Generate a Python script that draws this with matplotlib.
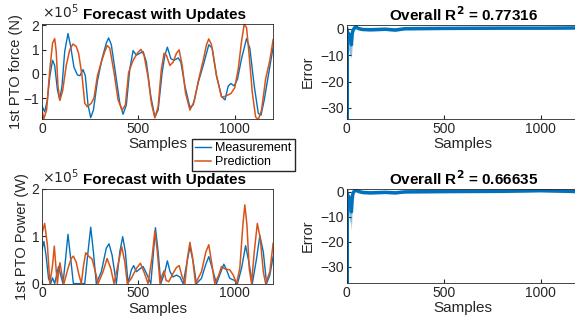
import numpy as np
import matplotlib.pyplot as plt

plt.rcParams['font.family'] = ['Liberation Sans', 'DejaVu Sans']

BLUE = '#0072BD'
ORANGE = '#D95319'
DARK = '#262626'

# 1st PTO force, units of 1e5 N
force_meas_x = [0, 14, 28, 41, 55, 66, 80, 92, 104, 118, 135, 149, 166, 184, 197, 213, 225, 239, 253, 267, 288, 312, 334, 346, 360, 381, 404, 421, 438, 456, 473, 490, 508, 525, 542, 565, 586, 603, 624, 638, 651, 669, 686, 707, 721, 742, 768, 785, 811, 837, 866, 884, 906, 932, 950, 967, 981, 998, 1015, 1036, 1062, 1079, 1102, 1123, 1137, 1154, 1175, 1200]
force_meas_y = [-1.31, -1.55, -1.06, -0.07, 0.56, 0.35, -0.63, -1.06, -0.49, 0.92, 1.66, 1.13, 0.28, -0.04, -0.07, 0.18, -0.07, -1.27, -1.79, -1.48, -0.28, 0.63, 1.27, 1.48, 1.2, 0.07, -1.2, -1.65, -1.27, 0.21, 0.96, 0.77, 0.85, 0.92, 0.49, -0.92, -1.76, -1.48, 0.07, 0.77, 1.1, 0.63, 0.56, 0.66, 0.49, -0.49, -1.37, -1.27, -0.35, 0.35, 1.2, 1.06, -0.07, -0.92, -1.06, -0.49, -0.39, -0.49, -0.21, 0.63, 1.45, 1.06, -0.49, -1.62, -1.69, -1.06, -0.07, 1.1]
force_pred_x = [0, 10, 24, 41, 55, 66, 74, 83, 93, 107, 126, 144, 161, 178, 190, 208, 222, 235, 256, 270, 288, 308, 326, 339, 352, 374, 395, 416, 433, 450, 473, 495, 513, 530, 551, 568, 586, 603, 620, 634, 646, 664, 681, 698, 712, 728, 745, 768, 790, 814, 837, 854, 866, 880, 906, 932, 950, 981, 1001, 1019, 1036, 1050, 1062, 1074, 1092, 1109, 1123, 1140, 1161, 1183, 1200]
force_pred_y = [-1.48, -1.83, -1.48, 0.21, 1.27, 1.45, 0.92, -0.49, -1.08, -0.7, 0.35, 0.99, 1.23, 1.13, 0.85, -0.07, -1.2, -1.34, -1.2, -0.99, -0.07, 0.49, 0.92, 1.17, 1.06, 0.07, -1.06, -1.48, -1.27, 0.07, 0.56, 0.85, 1.01, 0.77, -0.14, -1.2, -1.8, -1.34, 0.21, 0.85, 0.77, 0.35, 0.49, 0.85, 0.99, 0.35, -0.77, -1.48, -1.13, -0.21, 0.56, 1.2, 1.44, 1.2, -0.07, -0.94, -0.92, -0.8, -0.56, 0.21, 1.34, 2.04, 1.9, 0.92, -0.77, -1.76, -1.87, -1.48, -0.21, 0.56, 1.41]

# 1st PTO power, units of 1e5 W
power_meas_x = [0, 10, 21, 34, 45, 55, 66, 76, 86, 97, 109, 121, 135, 149, 163, 222, 239, 253, 267, 282, 308, 334, 348, 364, 386, 404, 419, 433, 447, 464, 476, 490, 508, 525, 542, 565, 577, 589, 603, 617, 638, 651, 665, 681, 698, 716, 733, 750, 768, 785, 802, 828, 849, 866, 884, 906, 929, 944, 958, 975, 998, 1015, 1036, 1057, 1074, 1092, 1114, 1131, 1149, 1166, 1183, 1200]
power_meas_y = [0.71, 0.89, 0.6, 0.11, 0.0, 0.12, 0.0, 0.18, 0.36, 0.18, 0.0, 0.46, 1.04, 0.53, 0.0, 0.0, 0.67, 1.19, 0.67, 0.0, 0.25, 0.75, 0.84, 0.6, 0.0, 0.67, 0.99, 0.67, 0.0, 0.29, 0.38, 0.25, 0.31, 0.36, 0.22, 0.0, 0.57, 1.18, 0.67, 0.0, 0.25, 0.48, 0.25, 0.14, 0.18, 0.14, 0.0, 0.39, 0.78, 0.46, 0.0, 0.11, 0.39, 0.57, 0.32, 0.0, 0.25, 0.41, 0.29, 0.11, 0.07, 0.0, 0.32, 0.8, 0.46, 0.0, 0.53, 1.01, 0.67, 0.0, 0.18, 0.57]
power_pred_x = [0, 14, 28, 41, 55, 64, 73, 80, 86, 93, 104, 114, 135, 152, 163, 178, 190, 204, 216, 227, 242, 260, 277, 291, 317, 338, 357, 374, 398, 414, 430, 443, 464, 490, 511, 530, 551, 572, 586, 599, 613, 624, 634, 644, 658, 681, 698, 712, 728, 742, 755, 768, 781, 797, 828, 851, 866, 880, 897, 918, 932, 950, 975, 993, 1010, 1027, 1043, 1053, 1064, 1076, 1088, 1102, 1118, 1133, 1149, 1161, 1183, 1200]
power_pred_y = [1.06, 1.27, 0.82, 0.0, 0.39, 0.79, 0.32, 0.0, 0.25, 0.44, 0.18, 0.0, 0.32, 0.53, 0.58, 0.45, 0.22, 0.0, 0.39, 0.65, 0.58, 0.52, 0.25, 0.0, 0.25, 0.53, 0.32, 0.0, 0.46, 0.78, 0.46, 0.0, 0.11, 0.32, 0.43, 0.24, 0.0, 0.57, 1.11, 0.67, 0.0, 0.18, 0.27, 0.07, 0.04, 0.22, 0.34, 0.38, 0.14, 0.0, 0.53, 0.87, 0.57, 0.0, 0.25, 0.67, 0.82, 0.46, 0.0, 0.18, 0.36, 0.31, 0.29, 0.18, 0.0, 0.32, 1.24, 1.66, 1.24, 0.32, 0.0, 0.67, 1.27, 0.96, 0.25, 0.0, 0.25, 0.85]

# forecast error (line and lower edge of the scattered band)
err1_x = [0, 1, 2, 4, 8, 12, 16, 20, 24, 28, 32, 40, 48, 56, 80, 120, 200, 250, 300, 500, 800, 1000, 1200]
err1_y = [0, -34.5, -2, -1, -3, -2, -4, -3, -6, -2, -0.5, 0.4, 0.9, 0.3, -0.2, -0.3, -0.1, -0.4, 0.1, 0.2, 0.3, 0.3, 0.4]
err1_low = [0, -34.5, -8, -6, -9, -8, -10, -10, -11.2, -6, -1.5, -0.3, 0.2, -0.3, -0.6, -0.8, -0.6, -0.9, -0.4, -0.2, -0.1, -0.1, 0.0]
err2_x = [0, 1, 2, 4, 8, 12, 16, 20, 24, 28, 32, 40, 48, 56, 80, 120, 200, 250, 300, 500, 800, 1000, 1200]
err2_y = [0, -37, -2, -1, -3, -2, -4, -5, -8, -3, -0.5, 0.4, 0.9, 0.3, -0.2, -0.4, -0.2, -0.4, 0.0, 0.1, 0.2, 0.5, 0.1]
err2_low = [0, -37, -8, -7, -10, -9, -12, -12, -15.3, -7, -1.5, -0.3, 0.2, -0.3, -0.8, -0.9, -0.7, -0.9, -0.5, -0.3, -0.2, 0.0, -0.4]

fig = plt.figure(figsize=(5.75, 3.29), dpi=100)

ax1 = fig.add_axes([0.073, 0.638, 0.402, 0.289])
ax2 = fig.add_axes([0.073, 0.138, 0.402, 0.288])
ax3 = fig.add_axes([0.603, 0.638, 0.405, 0.286])
ax4 = fig.add_axes([0.603, 0.140, 0.405, 0.286])

l1, = ax1.plot(force_meas_x, force_meas_y, color=BLUE, lw=1.0, label='Measurement')
l2, = ax1.plot(force_pred_x, force_pred_y, color=ORANGE, lw=1.1, label='Prediction')
ax1.set_ylim(-1.85, 2.05)
ax1.set_yticks([-1, 0, 1, 2])
ax1.set_ylabel('1st PTO force (N)', labelpad=0)

ax2.plot(power_meas_x, power_meas_y, color=BLUE, lw=1.0)
ax2.plot(power_pred_x, power_pred_y, color=ORANGE, lw=1.1)
ax2.set_ylim(0, 2)
ax2.set_yticks([0, 1, 2])
ax2.set_ylabel('1st PTO Power (W)', labelpad=2)

for ax in (ax1, ax2):
    ax.text(0.0, 1.03, r'$\times10^5$', transform=ax.transAxes, fontsize=10, color=DARK,
            ha='left', va='bottom')
    ax.text(0.528, 1.02, 'Forecast with Updates', transform=ax.transAxes, fontsize=11,
            fontweight='bold', ha='center', va='bottom')

ax3.fill_between(err1_x, err1_low, err1_y, color=BLUE, alpha=0.45, lw=0)
ax3.plot(err1_x, err1_y, color=BLUE, lw=2.5)
ax3.set_ylim(-34.3, 1.5)
ax3.set_yticks([-30, -20, -10, 0])
ax3.set_title(r'Overall R$^\mathbf{2}$ = 0.77316', fontsize=11, fontweight='bold', pad=3)

ax4.fill_between(err2_x, err2_low, err2_y, color=BLUE, alpha=0.45, lw=0)
ax4.plot(err2_x, err2_y, color=BLUE, lw=2.5)
ax4.set_ylim(-36.5, 1.2)
ax4.set_yticks([-30, -20, -10, 0])
ax4.set_title(r'Overall R$^\mathbf{2}$ = 0.66635', fontsize=11, fontweight='bold', pad=3)

for ax in (ax3, ax4):
    ax.set_ylabel('Error')

for ax in (ax1, ax2, ax3, ax4):
    ax.set_xlim(0, 1200)
    ax.set_xticks([0, 500, 1000])
    ax.set_xlabel('Samples', fontsize=11, color=DARK, labelpad=1)
    ax.yaxis.label.set_color(DARK)
    ax.yaxis.label.set_fontsize(10.5)
    ax.tick_params(direction='in', length=3, labelsize=10, colors=DARK, pad=2,
                   top=False, right=False)
    for s in ax.spines.values():
        s.set_color(DARK)
        s.set_linewidth(0.6)

fig.legend(handles=[l1, l2], loc='upper left', bbox_to_anchor=(192 / 575, 1 - 139 / 329),
           fontsize=9, frameon=True, fancybox=False, edgecolor=DARK, framealpha=1,
           handlelength=1.3, handletextpad=0.3, borderpad=0.25, labelspacing=0.15,
           borderaxespad=0)

fig.savefig('out.png', dpi=100)
